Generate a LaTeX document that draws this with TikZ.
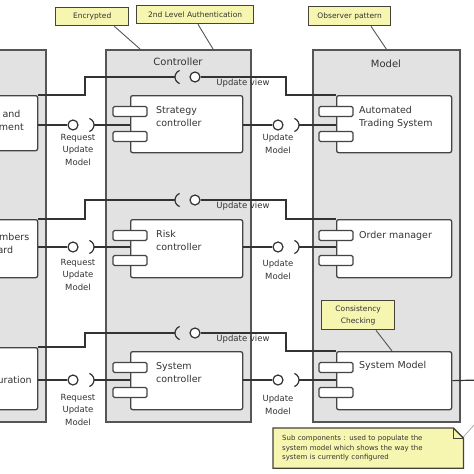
\documentclass[tikz,border=0pt]{standalone}
\usepackage{fontspec}
\setmainfont{DejaVu Sans}
\definecolor{pkgfill}{HTML}{E2E2E2}
\definecolor{pkgline}{HTML}{555555}
\definecolor{compline}{HTML}{444444}
\definecolor{linecol}{HTML}{333333}
\definecolor{notefill}{HTML}{F6F6B0}
\definecolor{noteline}{HTML}{44443A}
\definecolor{txtcol}{HTML}{333333}
\begin{document}
\begin{tikzpicture}[x=1pt,y=-1pt,
  pkg/.style={draw=pkgline,fill=pkgfill,line width=1.6pt,anchor=north west,inner sep=0pt},
  comp/.style={draw=compline,fill=white,line width=1.3pt,rounded corners=2pt,anchor=north west,inner sep=0pt},
  bar/.style={draw=compline,fill=white,line width=1.2pt,rounded corners=1.5pt,minimum width=34pt,minimum height=10pt,inner sep=0pt},
  conn/.style={draw=linecol,line width=1.2pt},
  ball/.style={circle,draw=linecol,fill=white,line width=1.2pt,minimum size=10pt,inner sep=0pt},
  pt/.style={inner sep=0pt,minimum size=0pt},
  cname/.style={font=\fontsize{9.5}{13}\selectfont,text=txtcol,align=left,anchor=north west,inner sep=0pt},
  lbl/.style={font=\fontsize{8.5}{12.5}\selectfont,text=txtcol,align=center,anchor=north,inner sep=0pt},
  ptitle/.style={font=\fontsize{10}{12}\selectfont,text=txtcol,inner sep=0pt},
  notebox/.style={draw=noteline,fill=notefill,line width=1.3pt,font=\fontsize{7.5}{9}\selectfont,text=txtcol,inner sep=0pt},
  notelink/.style={draw=pkgline,line width=0.9pt},
  ntext/.style={anchor=north west,text width=172pt,inner xsep=9pt,inner ysep=7pt,align=left,font=\fontsize{7}{9.5}\selectfont,text=txtcol},
]
\useasboundingbox (0,0) rectangle (474,474);
\clip (0,0) rectangle (474,474);
\fill[white] (0,0) rectangle (474,474);

% packages
\node[pkg,minimum width=75pt,minimum height=372pt] (view) at (-30,49) {};
\node[pkg,minimum width=145pt,minimum height=372pt] (ctrl) at (105,49) {};
\node[pkg,minimum width=147pt,minimum height=372pt] (model) at (312,49) {};
\node[ptitle] (ctrlt) at (178,62) {Controller};
\node[ptitle] (modelt) at (386,64) {Model};

% top notes
\node[notebox,minimum width=73pt,minimum height=18pt,anchor=north west] (n1) at (55,7) {Encrypted};
\node[notebox,minimum width=117pt,minimum height=18pt,anchor=north west] (n2) at (136,5) {2nd Level Authentication};
\node[notebox,minimum width=82pt,minimum height=19pt,anchor=north west] (n3) at (308,6) {Observer pattern};
\draw[notelink] ([xshift=-15pt]n1.south east) -- ([xshift=35pt]ctrl.north west);
\draw[notelink] ([xshift=62pt]n2.south west) -- ([xshift=108pt]ctrl.north west);
\draw[notelink] ([xshift=63pt]n3.south west) -- (model.north);

% left components
\node[comp,minimum width=67pt,minimum height=55pt] (lc1) at (-30,95) {};
\node[comp,minimum width=67pt,minimum height=58pt] (lc2) at (-30,219) {};
\node[comp,minimum width=67pt,minimum height=62pt] (lc3) at (-30,347) {};
\node[cname,anchor=west] (lt1) at (-39,121) {Account and\\Management};
\node[cname,anchor=west] (lt2) at (-15,243) {Members\\Board};
\node[cname,anchor=west] (lt3) at (-33,381) {Configuration};

% controller components
\node[comp,minimum width=112pt,minimum height=57pt] (cc1) at (130,95) {};
\node[comp,minimum width=112pt,minimum height=58pt] (cc2) at (130,219) {};
\node[comp,minimum width=112pt,minimum height=58pt] (cc3) at (130,351) {};
% model components
\node[comp,minimum width=115pt,minimum height=57pt] (mc1) at (336,95) {};
\node[comp,minimum width=115pt,minimum height=58pt] (mc2) at (336,219) {};
\node[comp,minimum width=115pt,minimum height=58pt] (mc3) at (336,351) {};

% Consistency note
\node[notebox,minimum width=73pt,minimum height=29pt,anchor=north west,align=center,font=\fontsize{7.5}{12}\selectfont] (n4) at (321,300) {Consistency\\Checking};
\draw[notelink] ([xshift=55pt]n4.south west) -- ([xshift=56pt]mc3.north west);

% Request Update Model / Update Model
\foreach \r/\y in {1/125,2/247,3/380}{
  \node[ball] (bl\r) at (73,\y) {};
  \node[pt] (sl\r) at (94,\y) {};
  \draw[conn] (lc\r.east |- bl\r) -- (bl\r);
  \draw[conn] (sl\r) -- (cc\r.west |- sl\r);
  \draw[conn] (sl\r) ++(-7,0) ++(-70:7) arc[start angle=-70,end angle=70,radius=7];
  \node[ball] (bm\r) at (278,\y) {};
  \node[pt] (sm\r) at (299,\y) {};
  \draw[conn] (cc\r.east |- bm\r) -- (bm\r);
  \draw[conn] (sm\r) -- (mc\r.west |- sm\r);
  \draw[conn] (sm\r) ++(-7,0) ++(-70:7) arc[start angle=-70,end angle=70,radius=7];
}
\node[lbl] (rq1) at (78,134) {Request\\Update\\Model};
\node[lbl] (rq2) at (78,259) {Request\\Update\\Model};
\node[lbl] (rq3) at (78,394) {Request\\Update\\Model};
\node[lbl] (um1) at (278,134) {Update\\Model};
\node[lbl] (um2) at (278,260) {Update\\Model};
\node[lbl] (um3) at (278,395) {Update\\Model};

% Update view
\foreach \r/\y in {1/77,2/200,3/333}{
  \node[pt] (sv\r) at (175,\y) {};
  \node[ball] (bv\r) at (195,\y) {};
  \coordinate (lk\r) at (85,\y);
  \coordinate (rk\r) at (286,\y);
  \draw[conn] (lc\r.north east) -| (lk\r) -- (sv\r);
  \draw[conn] (sv\r) ++(7,0) ++(110:7) arc[start angle=110,end angle=250,radius=7];
  \draw[conn] (bv\r) -- (rk\r) |- (mc\r.north west);
}
\node[lbl] (uv1) at (243,79) {Update view};
\node[lbl] (uv2) at (243,202) {Update view};
\node[lbl] (uv3) at (243,335) {Update view};

% component bars
\foreach \c/\x/\t in {cc1/130/95,cc2/130/219,cc3/130/351,mc1/336/95,mc2/336/219,mc3/336/351}{
  \node[bar] (\c a) at (\x,\t+16.5) {};
  \node[bar] (\c b) at (\x,\t+41.5) {};
}

% component names
\node[cname] (ct1) at (156,106) {Strategy\\controller};
\node[cname] (ct2) at (156,230) {Risk\\controller};
\node[cname] (ct3) at (156,362) {System\\controller};
\node[cname] (mt1) at (359,106) {Automated\\Trading System};
\node[cname] (mt2) at (359,231) {Order manager};
\node[cname] (mt3) at (359,361) {System Model};

% right link
\coordinate (off1) at (480,380);
\draw[conn] (mc3.east) -- (off1);

% bottom note
\node[ntext,text opacity=0] (n5) at (273,428) {Sub components : used to populate the\\system model which shows the way the\\system is currently configured};
\path[notebox] (n5.north west) -- ([xshift=-10pt]n5.north east) -- ([yshift=-10pt]n5.north east) -- (n5.south east) -- (n5.south west) -- cycle;
\draw[draw=noteline,line width=1pt] ([xshift=-10pt]n5.north east) -- ([xshift=-10pt,yshift=-10pt]n5.north east) -- ([yshift=-10pt]n5.north east);
\node[ntext] (n5t) at (273,428) {Sub components : used to populate the\\system model which shows the way the\\system is currently configured};
\coordinate (off2) at (482,416);
\draw[draw=gray!70,line width=0.7pt] ([yshift=-9pt]n5.north east) -- (off2);
\end{tikzpicture}
\end{document}
